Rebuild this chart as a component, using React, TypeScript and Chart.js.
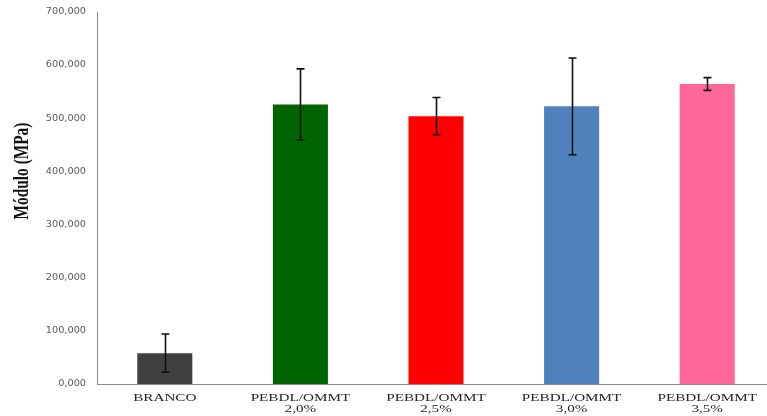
import React, { useEffect, useRef } from "react";
import { Chart, registerables } from "chart.js";

Chart.register(...registerables);

const categories: string[][] = [
  ["BRANCO"],
  ["PEBDL/OMMT", "2,0%"],
  ["PEBDL/OMMT", "2,5%"],
  ["PEBDL/OMMT", "3,0%"],
  ["PEBDL/OMMT", "3,5%"],
];
const modulus: number[] = [58, 526, 504, 522.5, 564.5];
const errors: number[] = [36, 67, 35, 91, 12];
const barColors: string[] = ["#404040", "#006400", "#ff0000", "#4f81bd", "#ff6699"];
const yTitle = "Módulo (MPa)";

const fmt = (v: number) => Number(v).toFixed(3).replace(".", ",");

const errorBarPlugin = {
  id: "errorBars",
  afterDatasetsDraw(chart: any) {
    const ctx = chart.ctx;
    const meta = chart.getDatasetMeta(0);
    const y = chart.scales.y;
    ctx.save();
    ctx.strokeStyle = "#111111";
    ctx.lineWidth = 1.6;
    meta.data.forEach((bar: any, i: number) => {
      const x = Math.round(bar.x) + 0.5;
      const top = y.getPixelForValue(modulus[i] + errors[i]);
      const bot = y.getPixelForValue(modulus[i] - errors[i]);
      ctx.beginPath();
      ctx.moveTo(x, top);
      ctx.lineTo(x, bot);
      ctx.moveTo(x - 4, top);
      ctx.lineTo(x + 4, top);
      ctx.moveTo(x - 4, bot);
      ctx.lineTo(x + 4, bot);
      ctx.stroke();
    });
    ctx.restore();
  },
};

// Draws the axis texts with the slight horizontal stretch seen in the reference.
const stretchedTextPlugin = {
  id: "stretchedText",
  afterDraw(chart: any) {
    const ctx = chart.ctx;
    const xs = chart.scales.x;
    const ys = chart.scales.y;
    ctx.save();
    // y tick labels
    ctx.font = "9px 'DejaVu Sans', Verdana, sans-serif";
    ctx.fillStyle = "#595959";
    ctx.textAlign = "right";
    ctx.textBaseline = "middle";
    ys.ticks.forEach((t: any) => {
      const py = ys.getPixelForValue(t.value);
      ctx.save();
      ctx.translate(86, py);
      ctx.scale(1.08, 1);
      ctx.fillText(fmt(t.value), 0, 0);
      ctx.restore();
    });
    // x category labels
    ctx.font = "11px 'Liberation Serif', 'Times New Roman', serif";
    ctx.fillStyle = "#262626";
    ctx.textAlign = "center";
    ctx.textBaseline = "alphabetic";
    categories.forEach((lines, i) => {
      const px = xs.getPixelForValue(i);
      lines.forEach((line, j) => {
        ctx.save();
        ctx.translate(px, xs.top + 16.5 + j * 11.5);
        ctx.scale(1.38, 1);
        ctx.fillText(line, 0, 0);
        ctx.restore();
      });
    });
    // y axis title
    ctx.font = "bold 16px 'Liberation Serif', 'Times New Roman', serif";
    ctx.fillStyle = "#111111";
    ctx.textAlign = "center";
    ctx.textBaseline = "alphabetic";
    ctx.save();
    ctx.translate(28, 171);
    ctx.rotate(-Math.PI / 2);
    ctx.scale(0.96, 1.3);
    ctx.fillText(yTitle, 0, 0);
    ctx.restore();
    ctx.restore();
  },
};

export default function App() {
  const ref = useRef<HTMLCanvasElement>(null);
  useEffect(() => {
    if (!ref.current) return;
    const chart = new Chart(ref.current, {
      type: "bar",
      data: {
        labels: categories,
        datasets: [
          {
            data: modulus,
            backgroundColor: barColors,
            borderWidth: 0,
            categoryPercentage: 1,
            barPercentage: 0.406,
          },
        ],
      },
      options: {
        animation: false,
        responsive: false,
        maintainAspectRatio: false,
        layout: { padding: { top: 12, right: 0, left: 0, bottom: 0 } },
        plugins: {
          legend: { display: false },
          tooltip: { enabled: false },
        },
        scales: {
          x: {
            grid: { display: false, drawTicks: false },
            border: { display: true, color: "#8c8c8c", width: 1 },
            ticks: {
              padding: 8,
              color: "rgba(0,0,0,0)",
              maxRotation: 0,
              autoSkip: false,
              font: { size: 11 },
            },
            afterFit: (scale: any) => {
              scale.height = 32;
            },
          },
          y: {
            min: 0,
            max: 700,
            grid: { display: false, drawTicks: true, tickLength: 5, tickColor: "#8c8c8c" },
            border: { display: true, color: "#8c8c8c", width: 1 },
            ticks: {
              stepSize: 100,
              padding: 6,
              color: "rgba(0,0,0,0)",
              font: { size: 9 },
              callback: (v: any) => fmt(v),
            },
            afterFit: (scale: any) => {
              scale.width = 97;
            },
          },
        },
      },
      plugins: [errorBarPlugin, stretchedTextPlugin],
    });
    return () => chart.destroy();
  }, []);
  return (
    <div style={{ position: "absolute", left: 0, top: 0, width: 767, height: 416, overflow: "hidden", background: "#fff" }}>
      <canvas ref={ref} width={775} height={416} style={{ display: "block" }} />
    </div>
  );
}
